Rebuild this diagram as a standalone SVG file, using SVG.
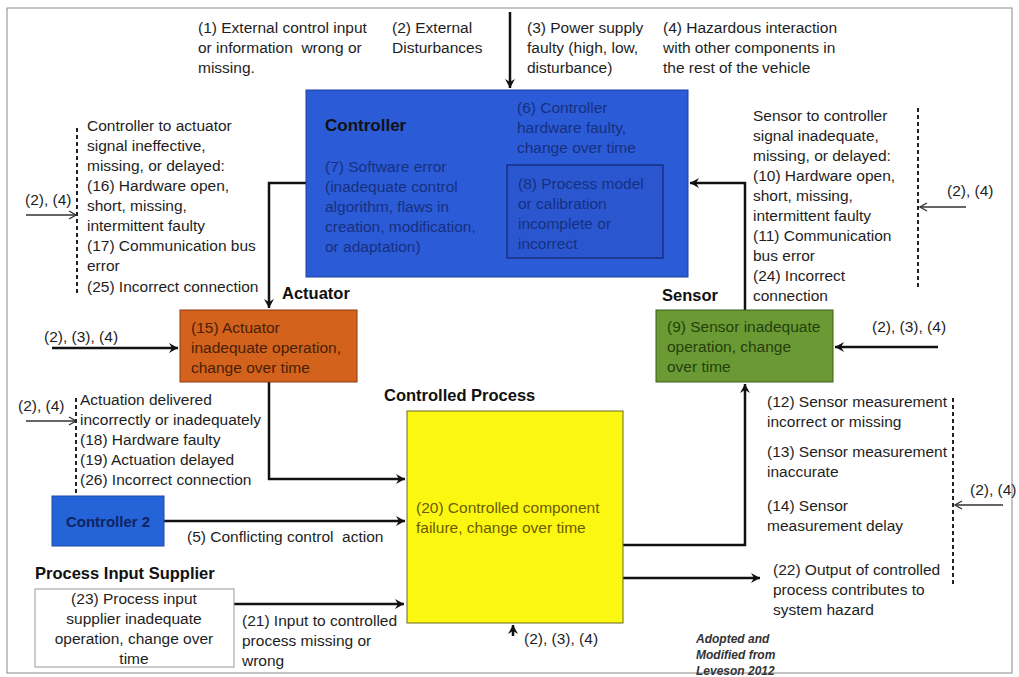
<svg xmlns="http://www.w3.org/2000/svg" width="1019" height="677" viewBox="0 0 1019 677">
  <defs>
    <marker id="head" viewBox="0 0 12 12" refX="10" refY="6" markerWidth="12" markerHeight="12" markerUnits="userSpaceOnUse" orient="auto">
      <path d="M1,1 L10,6 L1,11 L4,6 Z" fill="#111"/>
    </marker>
    <marker id="thin" viewBox="0 0 10 10" refX="9" refY="5" markerWidth="10" markerHeight="10" markerUnits="userSpaceOnUse" orient="auto">
      <path d="M2,1 L9,5 L2,9" fill="none" stroke="#333" stroke-width="1.3"/>
    </marker>
    <style>
      text { font-family: "Liberation Sans", Arial, sans-serif; font-size: 15.5px; fill: #1e1e1e; white-space: pre; }
      .b { font-weight: bold; font-size: 16.5px; fill: #111; }
      .ctl { fill: #17307f; }
      .act { fill: #4a1e06; }
      .sen { fill: #24400c; }
      .cp { fill: #6a5c00; }
      .note { font-style: italic; font-weight: bold; font-size: 12px; fill: #333; }
      .wire { fill: none; stroke: #111; stroke-width: 2.5; }
      .lead { fill: none; stroke: #333; stroke-width: 1.3; }
      .dash { fill: none; stroke: #222; stroke-width: 2; stroke-dasharray: 4 3; }
    </style>
  </defs>

  <rect x="0" y="0" width="1019" height="677" fill="#fff"/>
  <rect x="7" y="8" width="1005" height="665" fill="none" stroke="#8a8a8a" stroke-width="1"/>

  <!-- external factors across the top -->
  <g id="external-factors">
    <text x="198" y="33">(1) External control input</text>
    <text x="198" y="53">or information  wrong or</text>
    <text x="198" y="73">missing.</text>
    <text x="392" y="33">(2) External</text>
    <text x="392" y="53">Disturbances</text>
    <text x="527" y="33">(3) Power supply</text>
    <text x="527" y="53">faulty (high, low,</text>
    <text x="527" y="73">disturbance)</text>
    <text x="663" y="33">(4) Hazardous interaction</text>
    <text x="663" y="53">with other components in</text>
    <text x="663" y="73">the rest of the vehicle</text>
  </g>

  <!-- connectors -->
  <g id="connectors">
    <path class="wire" d="M510,12 V88" marker-end="url(#head)"/>
    <path class="wire" d="M306,183 H269 V308" marker-end="url(#head)"/>
    <path class="wire" d="M745,310 V183 H690" marker-end="url(#head)"/>
    <path class="wire" d="M269,382 V479 H405" marker-end="url(#head)"/>
    <path class="wire" d="M164,521 H405" marker-end="url(#head)"/>
    <path class="wire" d="M234,604 H404" marker-end="url(#head)"/>
    <path class="wire" d="M623,545 H745 V384" marker-end="url(#head)"/>
    <path class="wire" d="M623,578 H760" marker-end="url(#head)"/>
    <path class="wire" d="M52,348 H178" marker-end="url(#head)"/>
    <path class="wire" d="M938,347 H835" marker-end="url(#head)"/>
    <path class="wire" d="M513,636 V625" marker-end="url(#head)"/>
    <!-- disturbance leads onto the dashed signal lines -->
    <path class="lead" d="M26,215 H76" marker-end="url(#thin)"/>
    <path class="lead" d="M26,421 H76" marker-end="url(#thin)"/>
    <path class="lead" d="M966,207 H920" marker-end="url(#thin)"/>
    <path class="lead" d="M1003,505 H955" marker-end="url(#thin)"/>
    <path class="dash" d="M77,128 V294"/>
    <path class="dash" d="M76,398 V496"/>
    <path class="dash" d="M918,108 V288"/>
    <path class="dash" d="M953,398 V584"/>
  </g>

  <!-- Controller -->
  <g id="controller">
    <rect x="306" y="90" width="382" height="187" fill="#2b5bd6" stroke="#1d3fa0" stroke-width="1"/>
    <rect x="507" y="165" width="156" height="93" fill="#2a57cf" stroke="#1a2f80" stroke-width="1.5"/>
    <text class="b" x="325" y="131" style="font-size:17px">Controller</text>
    <text class="ctl" x="325" y="172">(7) Software error</text>
    <text class="ctl" x="325" y="192">(inadequate control</text>
    <text class="ctl" x="325" y="212">algorithm, flaws in</text>
    <text class="ctl" x="325" y="232">creation, modification,</text>
    <text class="ctl" x="325" y="252">or adaptation)</text>
    <text class="ctl" x="517" y="113">(6) Controller</text>
    <text class="ctl" x="517" y="133">hardware faulty,</text>
    <text class="ctl" x="517" y="153">change over time</text>
    <text class="ctl" x="518" y="189">(8) Process model</text>
    <text class="ctl" x="518" y="209">or calibration</text>
    <text class="ctl" x="518" y="229">incomplete or</text>
    <text class="ctl" x="518" y="249">incorrect</text>
  </g>

  <!-- controller to actuator signal -->
  <g id="ctrl-to-actuator-signal">
    <text x="87" y="131">Controller to actuator</text>
    <text x="87" y="151">signal ineffective,</text>
    <text x="87" y="171">missing, or delayed:</text>
    <text x="87" y="191">(16) Hardware open,</text>
    <text x="87" y="211">short, missing,</text>
    <text x="87" y="231">intermittent faulty</text>
    <text x="87" y="251">(17) Communication bus</text>
    <text x="87" y="271">error</text>
    <text x="87" y="292">(25) Incorrect connection</text>
    <text x="25" y="205">(2), (4)</text>
  </g>

  <!-- sensor to controller signal -->
  <g id="sensor-to-ctrl-signal">
    <text x="753" y="121">Sensor to controller</text>
    <text x="753" y="141">signal inadequate,</text>
    <text x="753" y="161">missing, or delayed:</text>
    <text x="753" y="181">(10) Hardware open,</text>
    <text x="753" y="201">short, missing,</text>
    <text x="753" y="221">intermittent faulty</text>
    <text x="753" y="241">(11) Communication</text>
    <text x="753" y="261">bus error</text>
    <text x="753" y="281">(24) Incorrect</text>
    <text x="753" y="301">connection</text>
    <text x="947" y="196">(2), (4)</text>
  </g>

  <!-- Actuator -->
  <g id="actuator">
    <text class="b" x="282" y="299">Actuator</text>
    <rect x="180" y="310" width="177" height="72" fill="#d2621c" stroke="#8a3a10" stroke-width="1"/>
    <text class="act" x="191" y="333">(15) Actuator</text>
    <text class="act" x="191" y="353">inadequate operation,</text>
    <text class="act" x="191" y="373">change over time</text>
    <text x="44" y="342">(2), (3), (4)</text>
  </g>

  <!-- Sensor -->
  <g id="sensor">
    <text class="b" x="662" y="301">Sensor</text>
    <rect x="656" y="310" width="177" height="72" fill="#6b9a34" stroke="#3d5c18" stroke-width="1"/>
    <text class="sen" x="667" y="332">(9) Sensor inadequate</text>
    <text class="sen" x="667" y="352">operation, change</text>
    <text class="sen" x="667" y="372">over time</text>
    <text x="872" y="332">(2), (3), (4)</text>
  </g>

  <!-- actuation delivered -->
  <g id="actuation-notes">
    <text x="80" y="405">Actuation delivered</text>
    <text x="80" y="425">incorrectly or inadequately</text>
    <text x="80" y="445">(18) Hardware faulty</text>
    <text x="80" y="465">(19) Actuation delayed</text>
    <text x="80" y="485">(26) Incorrect connection</text>
    <text x="18" y="411">(2), (4)</text>
  </g>

  <!-- Controlled Process -->
  <g id="controlled-process">
    <text class="b" x="384" y="401">Controlled Process</text>
    <rect x="407" y="411" width="216" height="212" fill="#fcf710" stroke="#6a6a20" stroke-width="1"/>
    <text class="cp" x="416" y="513">(20) Controlled component</text>
    <text class="cp" x="416" y="533">failure, change over time</text>
    <text x="524" y="644">(2), (3), (4)</text>
  </g>

  <!-- Controller 2 -->
  <g id="controller-2">
    <rect x="52" y="496" width="112" height="50" fill="#2563d8" stroke="#1d4aa8" stroke-width="1"/>
    <text class="b" x="108" y="527" text-anchor="middle" style="fill:#10245e;font-size:15px">Controller 2</text>
    <text x="187" y="542">(5) Conflicting control  action</text>
  </g>

  <!-- Process Input Supplier -->
  <g id="process-input-supplier">
    <text class="b" x="35" y="579">Process Input Supplier</text>
    <rect x="35" y="589" width="199" height="78" fill="#fff" stroke="#9a9a9a" stroke-width="1"/>
    <text x="134" y="604" text-anchor="middle">(23) Process input</text>
    <text x="134" y="624" text-anchor="middle">supplier inadequate</text>
    <text x="134" y="644" text-anchor="middle">operation, change over</text>
    <text x="134" y="664" text-anchor="middle">time</text>
    <text x="242" y="626">(21) Input to controlled</text>
    <text x="242" y="646">process missing or</text>
    <text x="242" y="666">wrong</text>
  </g>

  <!-- sensor measurement faults -->
  <g id="measurement-notes">
    <text x="767" y="407">(12) Sensor measurement</text>
    <text x="767" y="427">incorrect or missing</text>
    <text x="767" y="457">(13) Sensor measurement</text>
    <text x="767" y="477">inaccurate</text>
    <text x="767" y="511">(14) Sensor</text>
    <text x="767" y="531">measurement delay</text>
    <text x="970" y="495">(2), (4)</text>
  </g>

  <!-- system output -->
  <g id="system-output">
    <text x="773" y="575">(22) Output of controlled</text>
    <text x="773" y="595">process contributes to</text>
    <text x="773" y="615">system hazard</text>
  </g>

  <g id="source-note">
    <text class="note" x="696" y="643">Adopted and</text>
    <text class="note" x="696" y="659">Modified from</text>
    <text class="note" x="696" y="675">Leveson 2012</text>
  </g>
</svg>
